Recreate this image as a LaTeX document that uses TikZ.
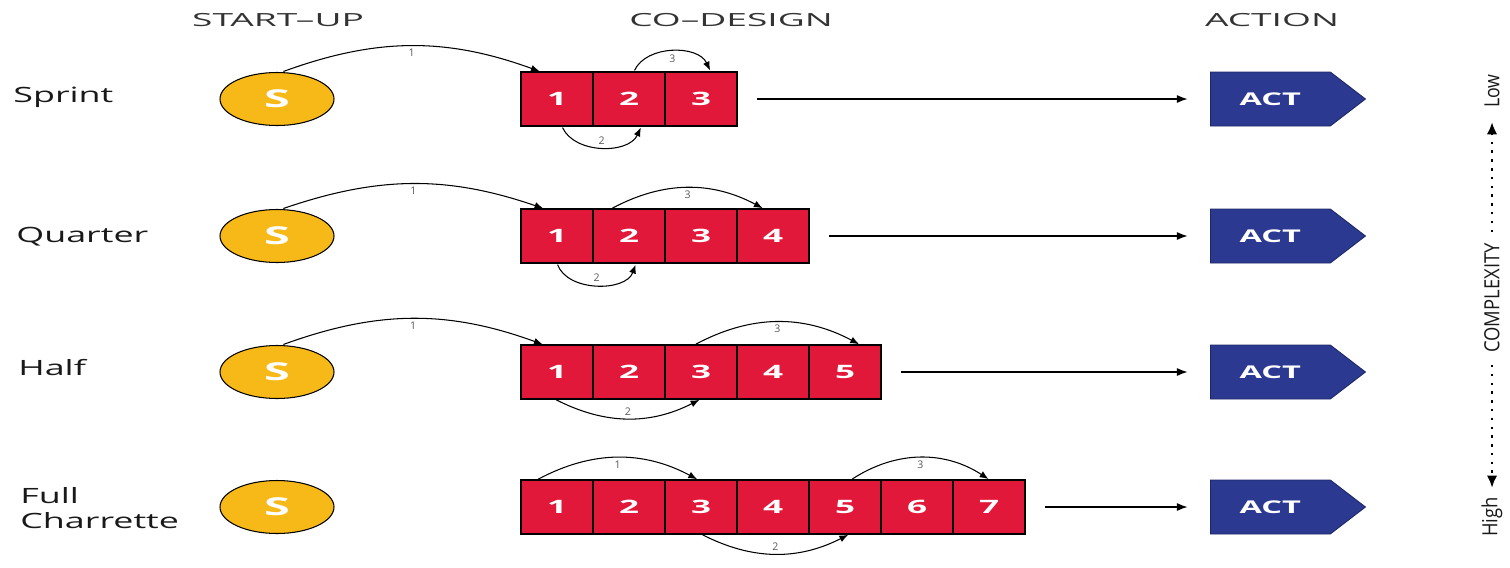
\documentclass[tikz,border=0pt]{standalone}
\usepackage{fontspec}
\setmainfont{Open Sans}
\usetikzlibrary{arrows.meta}
\usetikzlibrary{shapes.geometric}
\usetikzlibrary{shapes.symbols}
\definecolor{sgold}{HTML}{F7B918}
\definecolor{cored}{HTML}{E2183A}
\definecolor{actblue}{HTML}{2B3990}
\definecolor{hdgray}{HTML}{333333}
\newcommand{\wide}[2][1.7]{\scalebox{#1}[1]{#2}}
\tikzset{start/.style = {ellipse, draw, line width=0.6pt, fill=sgold,
                         minimum width=22.8mm, minimum height=10.6mm,
                         text=white, font=\fontsize{14}{15}\selectfont\bfseries}}
\tikzset{cell/.style = {rectangle, draw, line width=0.9pt, fill=cored,
                        minimum width=14.4mm, minimum height=10.8mm, outer sep=0pt,
                        text=white, font=\fontsize{10.5}{12}\selectfont\bfseries}}
\tikzset{act/.style = {signal, signal to=east, signal pointer angle=75,
                       draw=actblue!70!black, line width=0.5pt, fill=actblue,
                       minimum width=31mm, minimum height=10.8mm, anchor=west,
                       text=white, font=\fontsize{10}{12}\selectfont\bfseries}}
\tikzset{hop/.style = {-{Latex[length=5pt,width=4pt]}, line width=0.6pt,
                       shorten <=1pt, shorten >=1pt}}
\tikzset{hoplabel/.style = {font=\fontsize{6}{7}\selectfont, text=black!65, inner sep=1.5pt}}
\tikzset{flow/.style = {-{Latex[length=6pt,width=4.5pt]}, line width=0.6pt,
                        shorten <=4mm, shorten >=4.5mm}}
\tikzset{header/.style = {text=hdgray, font=\fontsize{10.3}{12}\selectfont}}
\tikzset{rowname/.style = {anchor=west, align=left, inner sep=0pt, text=black!90,
                           font=\fontsize{12}{14}\selectfont}}
\tikzset{axis/.style = {rotate=90, inner sep=0pt, text=black!90,
                        font=\fontsize{11.9}{13}\selectfont}}
\tikzset{dotline/.style = {line width=1.4pt, dash pattern=on 1.4pt off 3.6pt,
                           -{Latex[length=7pt,width=6pt]}}}

\begin{document}
\begin{tikzpicture}[x=2mm, y=2mm]
    \useasboundingbox (0, 0) rectangle (151, -56.7);

    % column heads
    \node [header] (hstart) at (27.8, -2.0) {\wide[2.05]{START–UP}};
    \node [header] (hco) at (73.1, -2.0) {\wide[2.05]{CO–DESIGN}};
    \node [header] (hact) at (127.2, -2.0) {\wide[2.05]{ACTION}};

    % row names
    \node [rowname] (sprint) at (1.3, -9.7) {\wide{Sprint}};
    \node [rowname] (quarter) at (1.6, -23.7) {\wide{Quarter}};
    \node [rowname] (half) at (1.8, -36.8) {\wide{Half}};
    \node [rowname] (full) at (2.0, -50.8) {\wide{Full}\\\wide{Charrette}};

    % start-up, co-design sessions, action
    \foreach \row/\n/\y in {1/3/-9.9, 2/4/-23.6, 3/5/-37.2, 4/7/-50.7} {
        \node [start] (s\row) at (27.7, \y) {\wide[1.9]{S}};
        \foreach \k in {1, ..., \n}
            \node [cell] (c\row\k) at ({55.7 + 7.2*(\k - 1)}, \y) {\wide[1.9]{\k}};
        \node [act] (a\row) at (121.0, \y) {\wide[1.85]{ACT}};
        \draw [flow] (c\row\n.east) -- (a\row.west);
    }

    % sprint
    \draw [hop] (s1.80) to [bend left=20] node [hoplabel, below] {1} (c11.120);
    \draw [hop] (c12.80) to [bend left=65] node [hoplabel, below] {3} (c13.70);
    \draw [hop] (c11.-80) to [bend right=65] node [hoplabel, above] {2} (c12.-65);

    % quarter
    \draw [hop] (s2.80) to [bend left=19] node [hoplabel, below] {1} (c21.114);
    \draw [hop] (c22.124) to [bend left=28] node [hoplabel, below] {3} (c24.108);
    \draw [hop] (c21.-90) to [bend right=70] node [hoplabel, above] {2} (c22.-75);

    % half
    \draw [hop] (s3.80) to [bend left=20] node [hoplabel, below] {1} (c31.115);
    \draw [hop] (c33.104) to [bend left=28] node [hoplabel, below] {3} (c35.60);
    \draw [hop] (c31.-95) to [bend right=27] node [hoplabel, above] {2} (c33.-90);

    % full charrette
    \draw [hop] (c41.127) to [bend left=28] node [hoplabel, below] {1} (c43.95);
    \draw [hop] (c45.78) to [bend left=33] node [hoplabel, below] {3} (c47.88);
    \draw [hop] (c43.-90) to [bend right=27] node [hoplabel, above] {2} (c45.-80);

    % complexity scale
    \node [axis] (low) at (149.2, -9.1) {\wide[0.85]{Low}};
    \node [axis] (cx) at (149.2, -29.8) {\wide[0.88]{COMPLEXITY}};
    \node [axis] (high) at (149.2, -51.7) {\wide[0.88]{High}};
    \draw [dotline, shorten <=2.2mm, shorten >=2.8mm] (cx.east) -- (low.west);
    \draw [dotline, shorten <=2.4mm, shorten >=1.8mm] (cx.west) -- (high.east);
\end{tikzpicture}
\end{document}
